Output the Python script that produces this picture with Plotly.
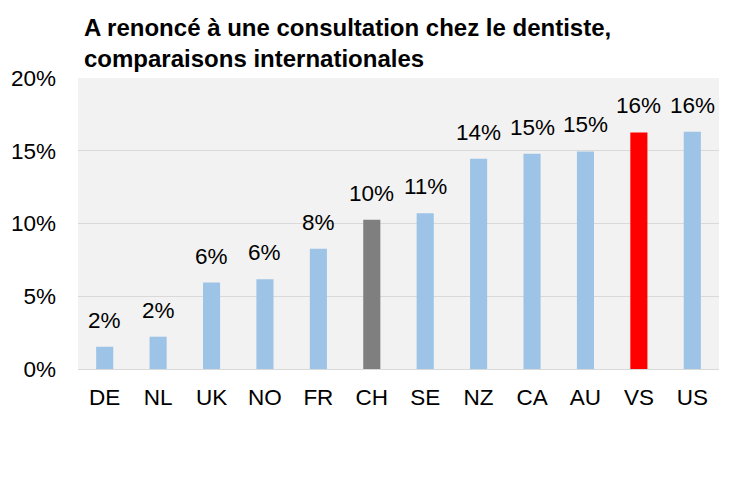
import plotly.graph_objects as go

countries = ["DE", "NL", "UK", "NO", "FR", "CH", "SE", "NZ", "CA", "AU", "VS", "US"]
values = [0.0153, 0.0222, 0.0594, 0.0617, 0.0826, 0.1025, 0.1071, 0.1445, 0.1479, 0.1495, 0.1626, 0.1630]
colors = ["#9DC3E6"] * 5 + ["#7F7F7F"] + ["#9DC3E6"] * 4 + ["#FF0000"] + ["#9DC3E6"]
yticks = [0, 0.05, 0.10, 0.15, 0.20]
title = "A renoncé à une consultation chez le dentiste,<br>comparaisons internationales"

font = "Liberation Sans, Arial, sans-serif"
fs = 22.5

fig = go.Figure(go.Bar(
    x=countries, y=values,
    marker=dict(color=colors, line=dict(width=0)),
    width=0.32,
))

annotations = [dict(
    text="<b>" + title + "</b>", xref="paper", yref="paper",
    x=0, y=1, xshift=4, yshift=66, xanchor="left", yanchor="top",
    align="left", showarrow=False,
    font=dict(size=24, family=font, color="#000000"),
)]
for c, v in zip(countries, values):
    annotations.append(dict(
        x=c, y=v, xref="x", yref="y", text=f"{v:.0%}",
        showarrow=False, xanchor="center", yanchor="bottom", yshift=12,
        font=dict(size=fs, family=font, color="#000000"),
    ))

fig.update_layout(
    width=735, height=486,
    margin=dict(l=70, r=24, t=70, b=125, autoexpand=False),
    paper_bgcolor="white", plot_bgcolor="#F2F2F2",
    showlegend=False,
    font=dict(family=font, size=fs, color="#000000"),
    annotations=annotations,
)
fig.update_yaxes(
    range=[0, 0.20], tickvals=yticks, tickformat=".0%",
    showgrid=True, gridcolor="#D9D9D9", gridwidth=1,
    zeroline=False, showline=False, ticklabelstandoff=21,
    tickfont=dict(size=fs, color="#000000"), fixedrange=True,
    automargin=False,
)
fig.update_xaxes(
    showline=True, linecolor="#D9D9D9", linewidth=1,
    ticklabelstandoff=8, tickfont=dict(size=fs, color="#000000"),
    automargin=False,
)

fig.write_html("out.html")
